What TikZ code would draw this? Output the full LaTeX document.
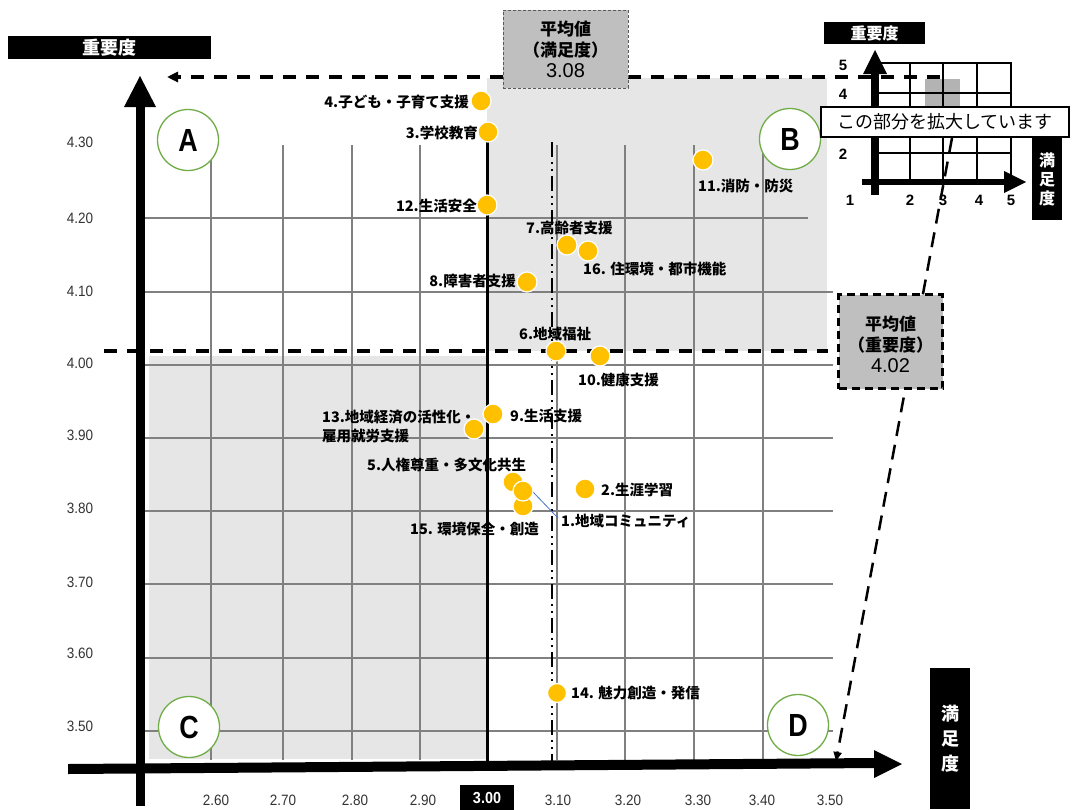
\documentclass[tikz,border=0pt]{standalone}
\usepackage{graphicx}
\usepackage{fontspec}
\setmainfont{Liberation Sans}
\newfontfamily\jp{Noto Sans CJK JP}
\newfontfamily\tickfont[FakeStretch=0.9]{Liberation Sans}
\newcommand{\condtxt}[1]{\scalebox{0.84}[1]{#1}}
\usetikzlibrary{arrows.meta}
\definecolor{dotc}{HTML}{FFC000}
\definecolor{qgreen}{HTML}{70AD47}
\definecolor{gridc}{HTML}{808080}
\definecolor{regc}{HTML}{E6E6E6}
\definecolor{boxc}{HTML}{BFBFBF}
\definecolor{tickc}{HTML}{333333}
\definecolor{leadc}{HTML}{4472C4}
\definecolor{cellc}{HTML}{B3B3B3}
\begin{document}
\begin{tikzpicture}[x=1pt,y=-1pt,
  gridl/.style={draw=gridc,line width=2.5},
  dotn/.style={circle,fill=dotc,draw=white,line width=1.2,minimum size=20,inner sep=0},
  lbl/.style={font=\jp\bfseries\fontsize{14.5}{16}\selectfont,inner sep=0},
  quad/.style={circle,draw=qgreen,line width=1.3,fill=white,minimum size=61,inner sep=0,font=\bfseries\fontsize{32}{32}\selectfont},
  ytk/.style={text=tickc,font=\tickfont\fontsize{15}{15}\selectfont,inner sep=0},
  xtk/.style={text=tickc,font=\tickfont\fontsize{15}{15}\selectfont,inner sep=0},
  hdr/.style={fill=black,text=white,font=\jp\bfseries\fontsize{18}{18}\selectfont,inner sep=0},
  avgtxt/.style={align=center,inner sep=0,font=\jp\bfseries\fontsize{17}{21}\selectfont},
  bigdash/.style={line width=3.5,dash pattern=on 13pt off 10pt},
  insetl/.style={line width=1.8,draw=black},
  inum/.style={font=\bfseries\fontsize{15}{15}\selectfont,inner sep=0}
]
\useasboundingbox[fill=white] (0,0) rectangle (1073,809);

% shaded regions
\fill[regc] (487,78) rectangle (827,351);
\fill[regc] (149,356) rectangle (487,759);

% grid
\foreach \x in {211,283,352,420,557,625,694,763} \draw[gridl] (\x,145) -- (\x,760);
\draw[gridl] (144,218) -- (808,218);
\foreach \y in {292,365,438,511,584,658,731} \draw[gridl] (144,\y) -- (833,\y);

% average lines
\draw[line width=3] (487,140) -- (487,762);
\draw[line width=2,dash pattern=on 15pt off 5pt on 2pt off 5pt on 2pt off 5pt] (552,142) -- (552,762);
\coordinate (hL) at (104,351);
\coordinate (hR) at (828,351);
\draw[line width=3.5,dash pattern=on 13pt off 10pt] (hL) -- (hR);

\coordinate (topS) at (940,77);
\coordinate (topE) at (167,77);
\draw[bigdash,-{Triangle[length=11pt,width=10pt]}] (topS) -- (topE);

\coordinate (lowS) at (952,138);
\coordinate (lowE) at (836,761);
\draw[line width=2.5,dash pattern=on 15pt off 9pt,-{Triangle[length=9pt,width=8pt]}] (lowS) -- (lowE);

% axes
\draw[line width=9] (140,806) -- (140,104);
\fill (140,76) -- (124,107) -- (156,107) -- cycle;
\fill (68,764) -- (876,758) -- (876,768) -- (68,774) -- cycle;
\fill (902,764) -- (874,750) -- (874,778) -- cycle;

% average boxes
\node[draw=gridc!70!black,line width=0.9,dash pattern=on 3pt off 2pt,fill=boxc,minimum width=125,minimum height=78,inner sep=0] (avgS) at (565.5,49) {};
\node[avgtxt] (avgSt) at (565.5,49.5) {平均値\\（満足度）\\{\normalfont\mdseries\fontsize{20}{21}\selectfont 3.08}};
\node[draw=black,line width=2.5,dash pattern=on 8pt off 5pt,fill=boxc,minimum width=104,minimum height=94,inner sep=0] (avgI) at (890.5,341.5) {};
\node[avgtxt] (avgIt) at (890.5,344) {平均値\\（重要度）\\{\normalfont\mdseries\fontsize{20}{21}\selectfont 4.02}};

% quadrant circles
\node[quad] (qA) at (188,140) {\condtxt{A}};
\node[quad] (qB) at (790,139) {\condtxt{B}};
\node[quad] (qC) at (189,727) {\condtxt{C}};
\node[quad] (qD) at (798,725) {\condtxt{D}};

% tick labels
\foreach \v/\y [count=\i] in {4.30/142,4.20/218,4.10/291,4.00/363,3.90/435,3.80/508,3.70/582,3.60/653,3.50/726}
  \node[ytk] (yt\i) at (80,\y) {\v};
\foreach \v/\x [count=\i] in {2.60/216,2.70/283,2.80/355,2.90/423,3.10/558,3.20/628,3.30/698,3.40/762,3.50/830}
  \node[xtk] (xt\i) at (\x,800) {\v};
\node[fill=black,text=white,font=\bfseries\fontsize{16}{16}\selectfont,minimum width=54,minimum height=25,inner sep=0] (xt0) at (487,797.5) {\scalebox{0.9}[1]{3.00}};

% data points
\draw[leadc,line width=0.8] (533,492) -- (558,518);
\node[dotn] (d4) at (481,101) {};
\node[dotn] (d3) at (488,132) {};
\node[dotn] (d12) at (487,205) {};
\node[dotn] (d11) at (703,160) {};
\node[dotn] (d7) at (567,245) {};
\node[dotn] (d16) at (588,251) {};
\node[dotn] (d8) at (527,282) {};
\node[dotn] (d6) at (556,351) {};
\node[dotn] (d10) at (600,356) {};
\node[dotn] (d9) at (493,414) {};
\node[dotn] (d13) at (474,429) {};
\node[dotn] (d5) at (513,482) {};
\node[dotn] (d15) at (523,506) {};
\node[dotn] (d1) at (523,491) {};
\node[dotn] (d2) at (585,489) {};
\node[dotn,minimum size=19] (d14) at (557,693) {};

\node[lbl,anchor=east] (l4) at (469,102) {4.子ども・子育て支援};
\node[lbl,anchor=east] (l3) at (478,133) {3.学校教育};
\node[lbl,anchor=east] (l12) at (477,206) {12.生活安全};
\node[lbl,anchor=west] (l11) at (698,186) {11.消防・防災};
\node[lbl,anchor=west] (l7) at (526,228) {7.高齢者支援};
\node[lbl,anchor=west] (l16) at (583,269) {16. 住環境・都市機能};
\node[lbl,anchor=east] (l8) at (516,281) {8.障害者支援};
\node[lbl,anchor=west] (l6) at (519,334) {6.地域福祉};
\node[lbl,anchor=west] (l10) at (578,380) {10.健康支援};
\node[lbl,anchor=west] (l9) at (510,416) {9.生活支援};
\node[lbl,anchor=west,align=left,font=\jp\bfseries\fontsize{14.5}{19}\selectfont] (l13) at (322,427) {13.地域経済の活性化・\\雇用就労支援};
\node[lbl,anchor=west] (l5) at (367,465) {5.人権尊重・多文化共生};
\node[lbl,anchor=west] (l1) at (561,521) {1.地域コミュニティ};
\node[lbl,anchor=west] (l15) at (410,529) {15. 環境保全・創造};
\node[lbl,anchor=west] (l2) at (601,490) {2.生涯学習};
\node[lbl,anchor=west] (l14) at (571,693) {14. 魅力創造・発信};

% headers
\node[hdr,minimum width=203,minimum height=23] (hY) at (109.5,47.5) {重要度};
\node[hdr,minimum width=40,minimum height=141,align=center,font=\jp\bfseries\fontsize{18}{25}\selectfont] (hX) at (950,738.5) {満\\足\\度};

% inset
\fill[cellc] (925,79) rectangle (960,107);
\draw[insetl] (877,63) rectangle (1011,182);
\foreach \x in {910,943,977} \draw[insetl] (\x,63) -- (\x,182);
\foreach \y in {93,123,153} \draw[insetl] (877,\y) -- (1011,\y);
\draw[line width=8] (875,195) -- (875,72);
\fill (875,50) -- (863,74) -- (887,74) -- cycle;
\draw[line width=6] (862,182) -- (1006,182);
\fill (1026,182) -- (1004,171) -- (1004,193) -- cycle;
\node[inum] (i5) at (843,65) {5};
\node[inum] (i4) at (843,94) {4};
\node[inum] (i2) at (843,154) {2};
\node[inum] (j1) at (850,200) {1};
\node[inum] (j2) at (910,200) {2};
\node[inum] (j3) at (943,200) {3};
\node[inum] (j4) at (979,200) {4};
\node[inum] (j5) at (1011,200) {5};
\node[draw=black,line width=1.8,fill=white,minimum width=248,minimum height=30,inner sep=0,font=\jp\fontsize{18}{18}\selectfont] (zoomlbl) at (945,122) {この部分を拡大しています};
\node[hdr,minimum width=101,minimum height=22,font=\jp\bfseries\fontsize{16}{16}\selectfont] (ihY) at (874.5,33) {重要度};
\node[hdr,minimum width=30,minimum height=82,align=center,font=\jp\bfseries\fontsize{16}{19}\selectfont] (ihX) at (1047,179) {満\\足\\度};
\end{tikzpicture}
\end{document}
